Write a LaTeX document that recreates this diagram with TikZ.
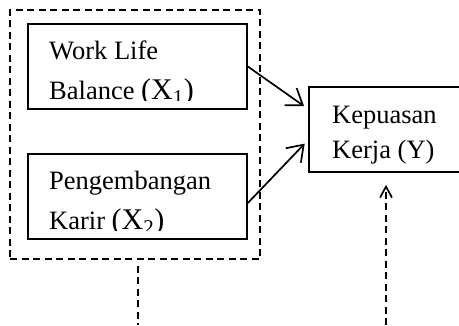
\documentclass[tikz,border=0pt]{standalone}
\usepackage{fontspec}
\setmainfont{Liberation Serif}
\usetikzlibrary{arrows.meta}
\begin{document}
\begin{tikzpicture}[x=1pt,y=-1pt,
  every node/.style={font=\fontsize{26.5pt}{30pt}\selectfont},
  box/.style={draw,line width=1.7pt,inner sep=0pt},
  dashbox/.style={draw,line width=1.7pt,inner sep=0pt,dash pattern=on 7pt off 4.5pt},
  dashline/.style={line width=1.7pt,dash pattern=on 7pt off 4.5pt},
  txt/.style={anchor=base west,inner sep=0pt},
  arr/.style={line width=1.7pt,-{Straight Barb[length=15pt,width=21pt,line width=1.7pt]}},
  darr/.style={line width=1.7pt,-{Straight Barb[length=11pt,width=12pt,line width=1.7pt]}}]
\useasboundingbox (0,0) rectangle (459,325);
\clip (0,0) rectangle (459,325);
\node[box, minimum width=219pt, minimum height=85pt] (b1) at (137.5,66.5) {};
\node[box, minimum width=219pt, minimum height=85pt] (b2) at (137.5,196.5) {};
\node[dashbox, minimum width=250pt, minimum height=249pt] (outer) at (135,134.5) {};
\node[box, minimum width=170pt, minimum height=85pt] (Y) at (394,129.5) {};
\begin{scope}
  \clip (28,24) rectangle (247,100);
  \node[txt] (t1a) at (49,59) {Work Life};
  \node[txt] (t1b) at (49,99) {Balance {\fontsize{30pt}{30pt}\selectfont(X\textsubscript{1})}};
\end{scope}
\begin{scope}
  \clip (28,154) rectangle (247,230);
  \node[txt] (t2a) at (49,189) {Pengembangan};
  \node[txt] (t2b) at (49,229) {Karir {\fontsize{30pt}{30pt}\selectfont(X\textsubscript{2})}};
\end{scope}
\node[txt] (tya) at (332,123) {Kepuasan};
\node[txt] (tyb) at (332,158) {Kerja (Y)};
\draw[arr, shorten >=5pt] (b1.east) -- ([yshift=20.5pt]Y.west);
\draw[arr, shorten >=5pt] ([yshift=-6.5pt]b2.east) -- ([yshift=-10.5pt]Y.west);
\coordinate (c1) at (138,325);
\coordinate (c2) at (386,325);
\draw[dashline] ([xshift=3pt,yshift=-6pt]outer.south) -- (c1);
\draw[dashline, darr, shorten >=12pt] (c2) -- ([xshift=-8pt]Y.south);
\end{tikzpicture}
\end{document}
